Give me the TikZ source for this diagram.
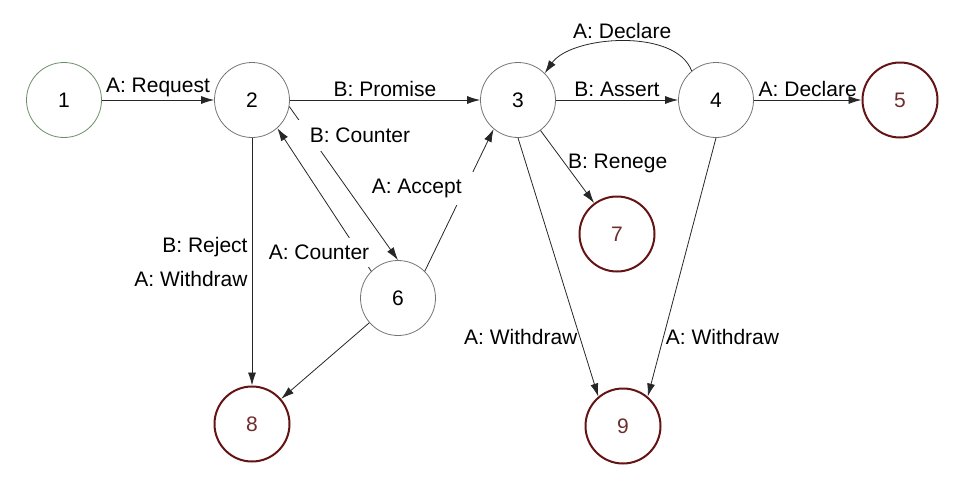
\documentclass[tikz,border=0pt]{standalone}
\usepackage{fontspec}
\setmainfont{Liberation Sans}
\usetikzlibrary{automata, positioning, arrows.meta}
\definecolor{startgreen}{RGB}{105,140,105}
\definecolor{stopred}{RGB}{100,20,20}
\definecolor{stoptext}{RGB}{110,45,45}

\begin{document}
\begin{tikzpicture}[->, >={Latex[length=13pt,width=8pt]}, x=1pt, y=-1pt, on grid,
    font=\fontsize{21}{25}\selectfont, line width=0.8pt, draw=black!85,
    every state/.style={draw=black!55, line width=0.8pt, minimum size=75pt, inner sep=0pt},
    start/.style={state, draw=startgreen},
    stop/.style={state, draw=stopred, line width=2pt, text=stoptext},
    lbl/.style={inner sep=3pt},
    cover/.style={fill=white, inner xsep=8pt, inner ysep=7pt}]
    \useasboundingbox (0,0) rectangle (956,482);
    \node[start] (n1) at (64,100) {1};
    \node[state, right=188pt of n1] (n2) {2};
    \node[state, right=266pt of n2] (n3) {3};
    \node[state, right=198pt of n3] (n4) {4};
    \node[stop, right=184pt of n4] (n5) {5};
    \node[state, below right=198pt and 146pt of n2] (n6) {6};
    \node[stop, below right=134pt and 99pt of n3] (n7) {7};
    \node[stop, below=324pt of n2] (n8) {8};
    \node[stop, below right=326pt and 105pt of n3] (n9) {9};
    \draw (n1) -- node[lbl, above] {A: Request} (n2);
    \draw (n2) -- node[lbl, above] {B: Promise} (n3);
    \draw (n3) -- node[lbl, above] {B: Assert} (n4);
    \draw (n4) -- node[lbl, above] {A: Declare} (n5);
    \draw (n4.130) to[out=110, in=55, looseness=0.8] node[lbl, above] {A: Declare} (n3.45);
    \draw (n6.135) -- node[cover, pos=.13, xshift=-40pt, inner xsep=6pt] {A: Counter} (n2.-48);
    \draw (n2.-10) -- node[cover, pos=.19, xshift=50pt, inner xsep=12pt, inner ysep=8pt] {B: Counter} (n6.north);
    \draw (n6.45) -- node[cover, pos=.58, xshift=-48pt, inner xsep=12pt] {A: Accept} (n3.-130);
    \draw (n2) -- node[left, align=right, inner sep=4pt] {B: Reject\\[9pt]A: Withdraw} (n8);
    \draw (n6) -- (n8);
    \draw (n3) -- node[lbl, right, pos=.45] {B: Renege} (n7);
    \draw (n3.south) -- node[left, pos=.77, inner sep=2pt] {A: Withdraw} (n9.130);
    \draw (n4.south) -- node[right, pos=.77, inner sep=2pt] {A: Withdraw} (n9.50);
\end{tikzpicture}
\end{document}
